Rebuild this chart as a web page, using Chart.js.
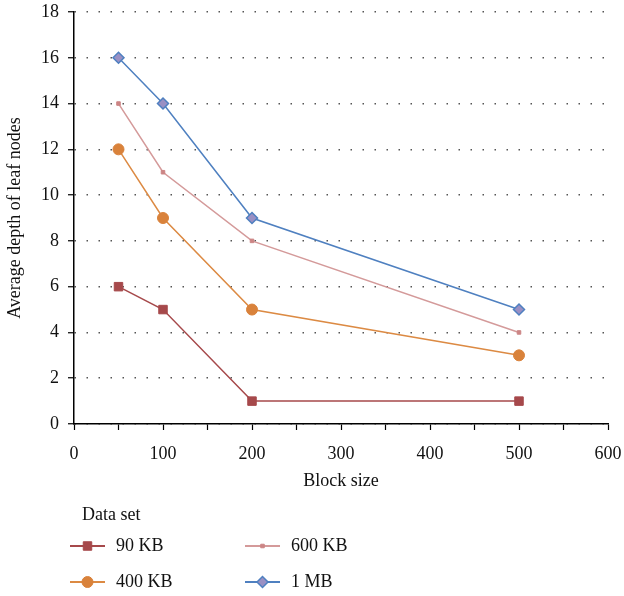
<!DOCTYPE html>
<html>
<head>
<meta charset="utf-8">
<script src="https://cdn.jsdelivr.net/npm/chart.js@4/dist/chart.umd.min.js"></script>
<style>
  html, body { margin: 0; padding: 0; background: #fff; }
  #wrap { width: 624px; height: 596px; position: relative; }
</style>
</head>
<body>
<div id="wrap"><canvas id="chart" width="624" height="596"></canvas></div>
<script>
// data
const blockSizes = [50, 100, 200, 500];
const depth90KB = [6, 5, 1, 1];
const depth400KB = [12, 9, 5, 3];
const depth600KB = [14, 11, 8, 4];
const depth1MB = [16, 14, 9, 5];
const seriesNames = ['90 KB', '400 KB', '600 KB', '1 MB'];
const xTicks = [0, 100, 200, 300, 400, 500, 600];
const yTicks = [0, 2, 4, 6, 8, 10, 12, 14, 16, 18];

const FONT = '"Liberation Serif", "DejaVu Serif", serif';

function points(vals) {
    return blockSizes.map((x, i) => ({ x: x, y: vals[i] }));
}

// legend below the plot, two columns like the original
const legendPlugin = {
    id: 'dataSetLegend',
    afterDraw(chart) {
        const ctx = chart.ctx;
        ctx.save();
        ctx.font = '18px ' + FONT;
        ctx.fillStyle = '#111';
        ctx.textBaseline = 'middle';
        ctx.fillText('Data set', 82, 515);
        const slots = [[70, 546], [70, 582], [245, 546], [245, 582]];
        chart.data.datasets.forEach((ds, i) => {
            const [x0, y0] = slots[i];
            ctx.strokeStyle = ds.borderColor;
            ctx.lineWidth = 2;
            ctx.beginPath();
            ctx.moveTo(x0, y0);
            ctx.lineTo(x0 + 35, y0);
            ctx.stroke();
            ctx.fillStyle = ds.pointBackgroundColor;
            ctx.strokeStyle = ds.pointBorderColor;
            ctx.lineWidth = ds.pointBorderWidth;
            Chart.helpers.drawPoint(ctx, {
                pointStyle: ds.pointStyle,
                radius: ds.pointRadius,
                borderWidth: ds.pointBorderWidth
            }, x0 + 17.5, y0);
            ctx.fillStyle = '#111';
            ctx.fillText(ds.label, x0 + 46, y0);
        });
        ctx.restore();
    }
};

new Chart(document.getElementById('chart').getContext('2d'), {
    type: 'line',
    data: {
        datasets: [{
            label: seriesNames[0],
            data: points(depth90KB),
            borderColor: '#a6494b',
            borderWidth: 1.5,
            pointStyle: 'rect',
            pointRadius: 6,
            pointBackgroundColor: '#a6494b',
            pointBorderColor: '#a6494b',
            pointBorderWidth: 1
        }, {
            label: seriesNames[1],
            data: points(depth400KB),
            borderColor: '#dc8a43',
            borderWidth: 1.5,
            pointStyle: 'circle',
            pointRadius: 5.5,
            pointBackgroundColor: '#d9823b',
            pointBorderColor: '#d9823b',
            pointBorderWidth: 1
        }, {
            label: seriesNames[2],
            data: points(depth600KB),
            borderColor: '#d49a9a',
            borderWidth: 1.5,
            pointStyle: 'rect',
            pointRadius: 2.5,
            pointBackgroundColor: '#cc8585',
            pointBorderColor: '#cc8585',
            pointBorderWidth: 1
        }, {
            label: seriesNames[3],
            data: points(depth1MB),
            borderColor: '#4f80c0',
            borderWidth: 1.5,
            pointStyle: 'rectRot',
            pointRadius: 5.5,
            pointBackgroundColor: '#9a90c4',
            pointBorderColor: '#4f80c0',
            pointBorderWidth: 1.5
        }]
    },
    options: {
        responsive: false,
        animation: false,
        layout: { padding: { top: 12, right: 16, left: 0, bottom: 100 } },
        plugins: {
            legend: { display: false },
            tooltip: { enabled: false }
        },
        scales: {
            x: {
                type: 'linear',
                min: 0,
                max: 600,
                afterFit(scale) {
                    scale.height = 72;
                    scale.paddingLeft = 0;
                    scale.paddingRight = 0;
                },
                afterBuildTicks(scale) {
                    const t = [];
                    for (let v = 0; v <= 600; v += 50) t.push({ value: v });
                    scale.ticks = t;
                },
                ticks: {
                    autoSkip: false,
                    maxRotation: 0,
                    color: '#111',
                    font: { family: FONT, size: 18 },
                    padding: 13,
                    callback: v => xTicks.includes(v) ? String(v) : ''
                },
                grid: {
                    drawOnChartArea: false,
                    drawTicks: true,
                    tickLength: 6,
                    tickColor: '#000',
                    tickWidth: 1.2
                },
                border: { color: '#000', width: 1.5 },
                title: {
                    display: true,
                    text: 'Block size',
                    color: '#111',
                    font: { family: FONT, size: 18 },
                    padding: { top: 0 }
                }
            },
            y: {
                min: 0,
                max: 18,
                afterFit(scale) {
                    scale.width = 74;
                    scale.paddingTop = 0;
                    scale.paddingBottom = 0;
                },
                afterBuildTicks(scale) {
                    scale.ticks = yTicks.map(v => ({ value: v }));
                },
                ticks: {
                    color: '#111',
                    font: { family: FONT, size: 18 },
                    padding: 9
                },
                grid: {
                    color: '#555',
                    lineWidth: 1.5,
                    tickLength: 6,
                    tickColor: '#000',
                    tickWidth: 1.2,
                    tickBorderDash: []
                },
                border: { color: '#000', width: 1.5, dash: [1.5, 10.5] },
                title: {
                    display: true,
                    text: 'Average depth of leaf nodes',
                    color: '#111',
                    font: { family: FONT, size: 18 },
                    padding: { top: 4, bottom: 0 }
                }
            }
        }
    },
    plugins: [legendPlugin]
});
</script>
</body>
</html>
